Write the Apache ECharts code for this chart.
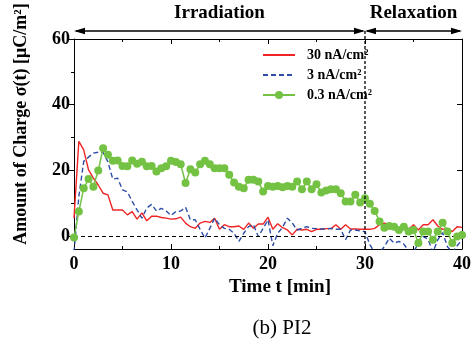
<!DOCTYPE html>
<html><head><meta charset="utf-8">
<script src="https://cdn.jsdelivr.net/npm/echarts@6/dist/echarts.min.js"></script>
<style>html,body{margin:0;padding:0;background:#fff}#c{width:474px;height:340px}</style>
</head><body><div id="c"></div>
<script>
const times = [0,0.5,1,1.5,2,2.5,3,3.5,4,4.5,5,5.5,6,6.5,7,7.5,8,8.5,9,9.5,10,10.5,11,11.5,12,12.5,13,13.5,14,14.5,15,15.5,16,16.5,17,17.5,18,18.5,19,19.5,20,20.5,21,21.5,22,22.5,23,23.5,24,24.5,25,25.5,26,26.5,27,27.5,28,28.5,29,29.5,30,30.5,31,31.5,32,32.5,33,33.5,34,34.5,35,35.5,36,36.5,37,37.5,38,38.5,39,39.5,40];
const seriesNames = ['30 nA/cm²','3 nA/cm²','0.3 nA/cm²'];
const red30 = [5.4,28.8,26.2,20.1,17.6,15.5,13.0,12.5,7.9,7.9,
  7.9,6.4,7.4,5.1,7.0,4.6,6.0,6.0,5.6,5.4,
  5.1,5.2,5.7,3.9,2.8,2.3,3.9,4.4,4.1,5.4,
  2.0,3.4,2.8,2.8,3.0,2.0,3.9,2.3,3.6,3.6,
  5.7,2.0,3.7,2.5,1.8,0.3,2.0,1.8,2.0,1.3,
  2.0,2.0,2.2,2.2,3.4,2.0,3.4,2.1,2.1,2.0,
  2.0,2.0,2.3,3.4,3.9,3.4,3.4,2.3,3.4,2.0,
  3.4,1.8,3.4,3.4,4.9,3.0,2.0,2.3,1.3,2.8,
  2.6];
const blue3 = [-5,12,22.7,24,25.2,25.5,25.5,22.5,17.3,17.6,
  14,13.4,10.5,7.9,5.4,8.5,9.6,7.6,8.4,7.6,
  6.2,7.4,7.6,8.7,4.9,4.9,2.0,-0.7,2.3,5.4,
  3.4,2.3,2.0,0.8,-1.7,0.8,2.8,3.4,-0.2,2.3,
  4.9,-3.0,0.8,2.6,5.4,3.9,1.8,2.3,2.8,2.3,
  2.2,2.1,2.1,2.3,2.0,2.0,-1.2,1.8,1.8,1.5,
  1.3,-2.7,-5,-5,-3.3,-0.7,-2.2,-1.7,-2.5,-4.5,
  -5,-2.2,-0.2,-1.0,-5,-1.2,1.0,-3.3,-5,-3.0,
  -1.2];
const green03 = [-0.5,7.4,14.5,17.3,15.0,19.9,26.7,24.7,22.9,23.0,
  21.3,21.2,23.0,22.0,22.6,21.2,21.3,19.6,20.6,21.2,
  22.9,22.5,21.8,16.1,20.3,19.3,21.8,22.9,21.8,20.6,
  20.6,20.6,18.6,16.3,15.0,14.5,17.1,17.1,16.6,13.5,
  15.2,15.0,15.2,14.8,15.2,15.0,16.6,14.2,16.6,14.2,
  15.7,13.2,13.8,14.2,14.2,13.0,10.5,10.5,12.5,10.2,
  11.5,9.8,7.6,4.4,2.5,3.0,2.8,1.8,2.8,1.3,
  1.8,-2.2,1.3,1.3,-1.2,1.3,4.0,1.3,-2.2,-0.2,
  0.3];
const yTickLabels = [0,20,40,60];
const yMinorTicks = [10,30,50];
const phaseLabels = ['Irradiation','Relaxation'];
const phaseBounds = [0,30,40];
const xName = 'Time t [min]';
const yName = 'Amount of Charge σ(t) [μC/m²]';
const caption = '(b) PI2';

const FONT = 'Liberation Serif';
const BLACK = '#000';
const chart = echarts.init(document.getElementById('c'));
const mk = arr => times.map((t, i) => [t, arr[i]]);
const lbl = {fontFamily: FONT, fontWeight: 'bold', fontSize: 18, color: BLACK};

const xBase = {type: 'value', min: 0, max: 40, interval: 10, splitLine: {show: false},
  axisLine: {show: true, onZero: false, lineStyle: {color: BLACK, width: 1}},
  axisTick: {show: true, inside: true, length: 5, lineStyle: {color: BLACK}},
  minorTick: {show: true, splitNumber: 2, length: 3, lineStyle: {color: BLACK}}};
const yBase = {type: 'value', min: -4, max: 60, splitLine: {show: false}, axisLabel: {show: false}};

const option = {
  animation: false,
  backgroundColor: '#fff',
  grid: {left: 74, right: 8, top: 39, bottom: 91},
  legend: {
    orient: 'vertical', left: 257, top: 43, itemWidth: 32, itemHeight: 10, itemGap: 6,
    textStyle: {fontFamily: FONT, fontWeight: 'bold', fontSize: 14, color: BLACK, padding: [0, 0, 0, 7]},
    data: [
      {name: seriesNames[0], itemStyle: {opacity: 0}},
      {name: seriesNames[1], itemStyle: {opacity: 0}},
      {name: seriesNames[2]}
    ]
  },
  xAxis: [
    Object.assign({}, xBase, {position: 'bottom', name: xName, nameLocation: 'middle', nameGap: 29,
      nameTextStyle: Object.assign({}, lbl, {fontSize: 19, padding: [0, 0, 0, 24]}),
      axisLabel: Object.assign({}, lbl, {margin: 6})}),
    Object.assign({}, xBase, {position: 'top', axisLabel: {show: false}})
  ],
  yAxis: [
    Object.assign({}, yBase, {position: 'left', name: yName, nameLocation: 'middle', nameGap: 44,
      nameTextStyle: Object.assign({}, lbl, {fontSize: 18, padding: [0, 0, 0, 40]}),
      axisLine: {show: true, onZero: false, lineStyle: {color: BLACK, width: 1}},
      axisTick: {show: true, inside: false, length: 5, customValues: yTickLabels, lineStyle: {color: BLACK}},
      axisLabel: Object.assign({}, lbl, {show: true, margin: 4, customValues: yTickLabels})}),
    Object.assign({}, yBase, {position: 'left', axisLine: {show: false},
      axisTick: {show: true, inside: false, length: 3, customValues: yMinorTicks, lineStyle: {color: BLACK}}}),
    Object.assign({}, yBase, {position: 'right',
      axisLine: {show: true, onZero: false, lineStyle: {color: BLACK, width: 1}},
      axisTick: {show: true, inside: true, length: 5, customValues: yTickLabels, lineStyle: {color: BLACK}}}),
    Object.assign({}, yBase, {position: 'right', axisLine: {show: false},
      axisTick: {show: true, inside: true, length: 3, customValues: yMinorTicks, lineStyle: {color: BLACK}}})
  ],
  series: [
    {name: seriesNames[0], type: 'line', data: mk(red30), symbol: 'none', clip: true,
      lineStyle: {color: '#f02424', width: 1.4}, itemStyle: {color: '#f02424'}, z: 3,
      markLine: {silent: true, symbol: 'none', label: {show: false}, animation: false,
        lineStyle: {color: BLACK, type: [4, 3], width: 1}, data: [{yAxis: 0}]}},
    {name: seriesNames[1], type: 'line', data: mk(blue3), symbol: 'none', clip: true,
      lineStyle: {color: '#2d4ea6', width: 1.4, type: [5, 3]}, itemStyle: {color: '#2d4ea6'}, z: 4},
    {name: seriesNames[2], type: 'line', data: mk(green03), symbol: 'circle', symbolSize: 8, clip: true,
      lineStyle: {color: '#74c243', width: 1.5}, itemStyle: {color: '#74c243'}, z: 5}
  ]
};
chart.setOption(option);

// Annotations positioned through the axes' own scales
const xs = phaseBounds.map(v => chart.convertToPixel({xAxisIndex: 0}, v));
const yTop = chart.convertToPixel({yAxisIndex: 0}, 60);
const yBot = chart.convertToPixel({yAxisIndex: 0}, -4);
const ay = yTop - 8;
function head(x, dir) {
  return {type: 'polygon', shape: {points: [[x, ay], [x - dir * 11, ay - 3.2], [x - dir * 11, ay + 3.2]]},
    style: {fill: BLACK}, z: 100};
}
const g = [];
for (let i = 0; i < 2; i++) {
  g.push({type: 'line', shape: {x1: xs[i] + 2, y1: ay, x2: xs[i + 1] - 2, y2: ay},
    style: {stroke: BLACK, lineWidth: 1.5}, z: 100});
  g.push(head(xs[i], -1));
  g.push(head(xs[i + 1], 1));
  g.push({type: 'text', x: (xs[i] + xs[i + 1]) / 2, y: ay - 18,
    style: {text: phaseLabels[i], fill: BLACK, font: 'bold 19px "Liberation Serif"', align: 'center', verticalAlign: 'middle'}, z: 100});
}
g.push({type: 'line', shape: {x1: xs[1], y1: ay, x2: xs[1], y2: yBot},
  style: {stroke: BLACK, lineWidth: 1.3, lineDash: [3, 2]}, z: 100});
g.push({type: 'text', x: 282, y: 328,
  style: {text: caption, fill: BLACK, font: '21px "Liberation Serif"', align: 'center', verticalAlign: 'middle'}, z: 100});
chart.setOption({graphic: g});
</script>
</body></html>
